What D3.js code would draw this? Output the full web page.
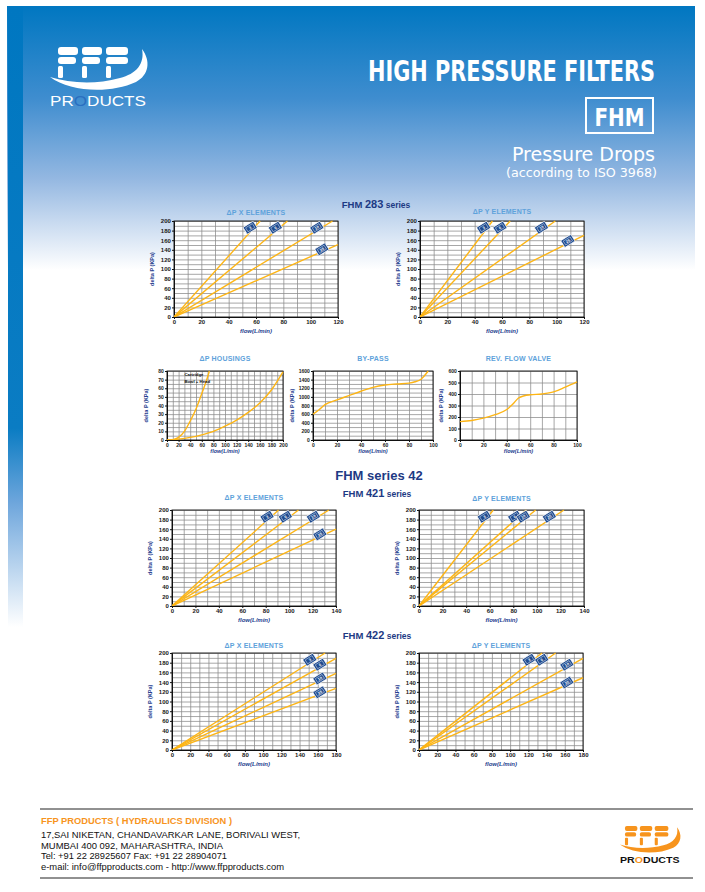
<!DOCTYPE html>
<html lang="en">
<head>
<meta charset="UTF-8">
<title>FHM Pressure Drops</title>
<script src="https://cdn.jsdelivr.net/npm/d3@7"></script>
<style>
    body { margin: 0; background: #fff; }
    svg { display: block; font-family: "Liberation Sans", Arial, sans-serif; }
    .grid line { stroke: #8a8a8a; stroke-width: 0.75; }
    .grid path { display: none; }
    .axis path, .axis line { stroke: #111; stroke-width: 1; }
    .axis text { font-weight: bold; fill: #1a1a1a; font-family: "Liberation Sans", Arial, sans-serif; }
</style>
</head>
<body>
<svg id="page" width="705" height="892"></svg>
<script>
// ---- data ----
// tick labels
const flowTicks100 = [0, 20, 40, 60, 80, 100];
const flowTicks120 = [0, 20, 40, 60, 80, 100, 120];
const flowTicks140 = [0, 20, 40, 60, 80, 100, 120, 140];
const flowTicks180 = [0, 20, 40, 60, 80, 100, 120, 140, 160, 180];
const flowTicks200 = [0, 20, 40, 60, 80, 100, 120, 140, 160, 180, 200];
const dpTicks200 = [0, 20, 40, 60, 80, 100, 120, 140, 160, 180, 200];
const dpTicks80 = [0, 10, 20, 30, 40, 50, 60, 70, 80];
const dpTicks1600 = [0, 200, 400, 600, 800, 1000, 1200, 1400, 1600];
const dpTicks600 = [0, 100, 200, 300, 400, 500, 600];

// element lines [flow L/min, dP kPa], finest element first
const elem283X = [[[0, 0], [63, 200]], [[0, 0], [83, 200]], [[0, 0], [116, 200]], [[0, 0], [120, 151]]];
const elem283Y = [[[0, 0], [53, 200]], [[0, 0], [66, 200]], [[0, 0], [99, 200]], [[0, 0], [120, 170]]];
const elem421X = [[[0, 0], [91, 200]], [[0, 0], [108, 200]], [[0, 0], [134, 200]], [[0, 0], [140, 160]]];
const elem421Y = [[[0, 0], [63, 200]], [[0, 0], [91, 200]], [[0, 0], [99, 200]], [[0, 0], [123, 200]]];
const elem422X = [[[0, 0], [168, 200]], [[0, 0], [180, 189]], [[0, 0], [180, 158]], [[0, 0], [180, 127]]];
const elem422Y = [[[0, 0], [135, 200]], [[0, 0], [150, 200]], [[0, 0], [180, 189]], [[0, 0], [180, 149]]];
const elementTags = ["3", "6", "10", "25"];

// curves
const housingA = [[0, 0], [10, 0.5], [20, 3], [30, 10], [40, 22], [50, 36], [60, 54], [70, 73], [73, 80]];
const housingB = [[0, 0], [20, 1], [40, 3], [60, 6], [80, 10], [100, 16], [120, 23], [140, 32], [160, 43], [180, 58], [200, 79]];
const housingLegend = ["Cartridge", "Bowl + Head"];
const bypassCurve = [[0, 600], [5, 700], [10, 820], [20, 930], [30, 1030], [40, 1130], [50, 1220], [60, 1275], [70, 1300], [80, 1320], [85, 1350], [90, 1410], [96, 1600]];
const revFlowCurve = [[0, 160], [10, 170], [20, 190], [30, 220], [40, 265], [45, 310], [50, 365], [55, 385], [60, 393], [70, 400], [80, 418], [90, 460], [100, 505]];

const svg = d3.select("#page");
const defs = svg.append("defs");

// header gradient
const hg = defs.append("linearGradient").attr("id", "hdr").attr("x1", 0).attr("y1", 0).attr("x2", 0).attr("y2", 1);
hg.append("stop").attr("offset", 0).attr("stop-color", "#0077c1");
hg.append("stop").attr("offset", 0.35).attr("stop-color", "#3f8dcf");
hg.append("stop").attr("offset", 0.65).attr("stop-color", "#93b7e1");
hg.append("stop").attr("offset", 0.8).attr("stop-color", "#c2d6ee");
hg.append("stop").attr("offset", 1).attr("stop-color", "#ffffff");

const sg = defs.append("linearGradient").attr("id", "strip").attr("x1", 0).attr("y1", 0).attr("x2", 0).attr("y2", 1);
sg.append("stop").attr("offset", 0).attr("stop-color", "#0077c1");
sg.append("stop").attr("offset", 0.68).attr("stop-color", "#0a7cc3");
sg.append("stop").attr("offset", 0.8).attr("stop-color", "#6ea6dc");
sg.append("stop").attr("offset", 1).attr("stop-color", "#ffffff");

svg.append("rect").attr("x", 7).attr("y", 6).attr("width", 688).attr("height", 264).attr("fill", "url(#hdr)");
svg.append("rect").attr("x", 8).attr("y", 6).attr("width", 15).attr("height", 621).attr("fill", "url(#strip)");

const narrow = "'Liberation Sans Narrow', 'DejaVu Sans Condensed', Arial, sans-serif";

svg.append("text").attr("x", 655).attr("y", 81).attr("text-anchor", "end")
    .attr("font-family", narrow).attr("font-weight", "bold").attr("font-size", 28)
    .attr("textLength", 287).attr("lengthAdjust", "spacingAndGlyphs")
    .attr("fill", "#fff").text("HIGH PRESSURE FILTERS");

svg.append("rect").attr("x", 586).attr("y", 98).attr("width", 67).attr("height", 35)
    .attr("fill", "none").attr("stroke", "#fff").attr("stroke-width", 2);
svg.append("text").attr("x", 619.5).attr("y", 126).attr("text-anchor", "middle")
    .attr("font-family", narrow).attr("font-weight", "bold").attr("font-size", 25)
    .attr("textLength", 50).attr("lengthAdjust", "spacingAndGlyphs")
    .attr("fill", "#fff").text("FHM");

svg.append("text").attr("x", 655).attr("y", 161).attr("text-anchor", "end")
    .attr("font-family", narrow).attr("font-size", 19)
    .attr("textLength", 143).attr("lengthAdjust", "spacingAndGlyphs")
    .attr("fill", "#fff").text("Pressure Drops");
svg.append("text").attr("x", 657).attr("y", 177).attr("text-anchor", "end")
    .attr("font-family", narrow).attr("font-size", 13)
    .attr("textLength", 151).attr("lengthAdjust", "spacingAndGlyphs")
    .attr("fill", "#fff").text("(according to ISO 3968)");

// FFP logo
function drawLogo(tx, ty, s, fill, textFill, globe, bold) {
    const g = svg.append("g").attr("transform", `translate(${tx},${ty}) scale(${s})`);
    g.append("path")
        .attr("d", "M0,30 C20,45 60,47 86,35 C99,28 101,14 92,2 C95,17 86,27 70,31 C44,38 20,36 0,30 Z")
        .attr("fill", fill);
    [8, 32, 56].forEach((bx, i) => {
        g.append("rect").attr("x", bx).attr("y", 0).attr("width", i === 2 ? 22 : 20).attr("height", 8).attr("rx", 3).attr("fill", fill);
        g.append("rect").attr("x", bx).attr("y", 10).attr("width", i === 2 ? 22 : 18).attr("height", 7).attr("rx", 3).attr("fill", fill);
        g.append("rect").attr("x", bx).attr("y", 19).attr("width", 5).attr("height", 12).attr("rx", 1.5).attr("fill", fill);
    });
    const t = g.append("text").attr("x", 0).attr("y", 59).attr("font-size", 15)
        .attr("font-weight", bold ? "bold" : "normal")
        .attr("textLength", 96).attr("lengthAdjust", "spacingAndGlyphs")
        .attr("fill", textFill);
    t.append("tspan").text("PR");
    t.append("tspan").attr("fill", globe).text("O");
    t.append("tspan").text("DUCTS");
}
drawLogo(50, 47, 1, "#ffffff", "#ffffff", "#2a6fc0", false);

// section titles
const navy = "#1d3a84";
function seriesTitle(cx, y, num) {
    const t = svg.append("text").attr("x", cx).attr("y", y).attr("text-anchor", "middle")
        .attr("font-weight", "bold").attr("fill", navy);
    t.append("tspan").attr("font-size", 9.5).text("FHM ");
    t.append("tspan").attr("font-size", 11).text(num);
    t.append("tspan").attr("font-size", 8.5).text(" series");
}
seriesTitle(376, 208, "283");
svg.append("text").attr("x", 379).attr("y", 480).attr("text-anchor", "middle")
    .attr("font-weight", "bold").attr("font-size", 13).attr("fill", navy).text("FHM series 42");
seriesTitle(377, 497, "421");
seriesTitle(377, 639, "422");

// ---- charts ----
const curveColor = "#fdb515";

function drawChart(c) {
    const g = svg.append("g");
    const x = d3.scaleLinear().domain([0, c.xTicks[c.xTicks.length - 1]]).range([c.left, c.right]);
    const y = d3.scaleLinear().domain([0, c.yTicks[c.yTicks.length - 1]]).range([c.bottom, c.top]);
    const h = c.bottom - c.top, w = c.right - c.left;
    const fs = c.tickFont || 6;

    g.append("rect").attr("x", c.left).attr("y", c.top).attr("width", w).attr("height", h).attr("fill", "#fff");

    g.append("g").attr("class", "grid").attr("transform", `translate(0,${c.bottom})`)
        .call(d3.axisBottom(x).tickValues(d3.range(0, x.domain()[1] + 0.01, c.xGrid)).tickSize(-h).tickFormat(""));
    g.append("g").attr("class", "grid").attr("transform", `translate(${c.left},0)`)
        .call(d3.axisLeft(y).tickValues(d3.range(0, y.domain()[1] + 0.01, c.yGrid)).tickSize(-w).tickFormat(""));

    g.append("rect").attr("x", c.left).attr("y", c.top).attr("width", w).attr("height", h)
        .attr("fill", "none").attr("stroke", "#111").attr("stroke-width", 0.9);

    g.append("g").attr("class", "axis").attr("font-size", fs).attr("transform", `translate(0,${c.bottom})`)
        .call(d3.axisBottom(x).tickValues(c.xTicks).tickFormat(d3.format("d")).tickSize(2).tickPadding(1.2))
        .selectAll("text").attr("font-size", fs);
    g.append("g").attr("class", "axis").attr("font-size", fs).attr("transform", `translate(${c.left},0)`)
        .call(d3.axisLeft(y).tickValues(c.yTicks).tickFormat(d3.format("d")).tickSize(2).tickPadding(1.2))
        .selectAll("text").attr("font-size", fs);

    g.append("text").attr("x", (c.left + c.right) / 2).attr("y", c.titleY).attr("text-anchor", "middle")
        .attr("font-size", 7).attr("font-weight", "bold").attr("fill", "#5ea2db").attr("letter-spacing", 0.2)
        .text(c.title);
    g.append("text").attr("x", (c.left + c.right) / 2).attr("y", c.bottom + c.xLabelDy).attr("text-anchor", "middle")
        .attr("font-size", c.labelFont || 6).attr("font-weight", "bold").attr("font-style", "italic").attr("fill", "#25408f")
        .text("flow(L/min)");
    g.append("text")
        .attr("transform", `translate(${c.left - c.yLabelDx},${(c.top + c.bottom) / 2}) rotate(-90)`)
        .attr("text-anchor", "middle").attr("font-size", 5.5).attr("font-weight", "bold").attr("fill", "#25408f")
        .text("delta P (KPa)");

    const line = d3.line().x(d => x(d[0])).y(d => y(d[1])).curve(c.smooth ? d3.curveMonotoneX : d3.curveLinear);
    const clip = "clip-" + c.id;
    defs.append("clipPath").attr("id", clip).append("rect")
        .attr("x", c.left).attr("y", c.top - 1).attr("width", w + 1).attr("height", h + 1);
    g.append("g").attr("clip-path", `url(#${clip})`).selectAll("path").data(c.series).join("path")
        .attr("d", line).attr("fill", "none").attr("stroke", curveColor).attr("stroke-width", 1.4);

    if (c.tags) {
        c.series.forEach((s, i) => {
            const e = s[s.length - 1];
            const bx = x(e[0] * 0.92) - 3, by = y(e[1] * 0.92) - 1;
            const b = g.append("g").attr("transform", `translate(${bx},${by}) rotate(-32)`);
            b.append("rect").attr("x", -6).attr("y", -4).attr("width", 12).attr("height", 8).attr("rx", 1)
                .attr("fill", "#1f4b8f").attr("stroke", "#fff").attr("stroke-width", 0.7);
            b.append("rect").attr("x", -4).attr("y", -2.3).attr("width", 8).attr("height", 4.6)
                .attr("fill", "none").attr("stroke", "#dfe8f5").attr("stroke-width", 0.5);
            b.append("text").attr("x", 0).attr("y", 1.4).attr("text-anchor", "middle")
                .attr("font-size", 3.8).attr("font-weight", "bold").attr("fill", "#fff").text(c.tags[i]);
        });
    }

    if (c.legend) {
        c.legend.forEach((t, i) => {
            g.append("text").attr("x", x(c.legendX)).attr("y", c.top + 5 + i * 6.5)
                .attr("font-size", 4.3).attr("font-weight", "bold").attr("fill", "#111").text(t);
        });
    }
}

const charts = [
    { id: "x283", title: "\u0394P X ELEMENTS", left: 174, right: 338, top: 221, bottom: 317, titleY: 215,
      xTicks: flowTicks120, yTicks: dpTicks200, xGrid: 10, yGrid: 10, series: elem283X, tags: elementTags, xLabelDy: 16, yLabelDx: 20 },
    { id: "y283", title: "\u0394P Y ELEMENTS", left: 420, right: 584, top: 221, bottom: 317, titleY: 214,
      xTicks: flowTicks120, yTicks: dpTicks200, xGrid: 10, yGrid: 10, series: elem283Y, tags: elementTags, xLabelDy: 16, yLabelDx: 20 },
    { id: "hous", title: "\u0394P HOUSINGS", left: 167, right: 283, top: 371, bottom: 440, titleY: 361,
      xTicks: flowTicks200, yTicks: dpTicks80, xGrid: 10, yGrid: 5, series: [housingA, housingB], smooth: true,
      legend: housingLegend, legendX: 30, xLabelDy: 13, yLabelDx: 19, tickFont: 5, labelFont: 5.5 },
    { id: "bypass", title: "BY-PASS", left: 313, right: 433, top: 371, bottom: 440, titleY: 361,
      xTicks: flowTicks100, yTicks: dpTicks1600, xGrid: 10, yGrid: 100, series: [bypassCurve], smooth: true,
      xLabelDy: 13, yLabelDx: 19, tickFont: 5, labelFont: 5.5 },
    { id: "rev", title: "REV. FLOW VALVE", left: 460, right: 577, top: 371, bottom: 440, titleY: 361,
      xTicks: flowTicks100, yTicks: dpTicks600, xGrid: 10, yGrid: 100, series: [revFlowCurve], smooth: true,
      xLabelDy: 13, yLabelDx: 17, tickFont: 5, labelFont: 5.5 },
    { id: "x421", title: "\u0394P X ELEMENTS", left: 172, right: 336, top: 510, bottom: 606, titleY: 500,
      xTicks: flowTicks140, yTicks: dpTicks200, xGrid: 10, yGrid: 10, series: elem421X, tags: elementTags, xLabelDy: 16, yLabelDx: 20 },
    { id: "y421", title: "\u0394P Y ELEMENTS", left: 419, right: 584, top: 510, bottom: 606, titleY: 501,
      xTicks: flowTicks140, yTicks: dpTicks200, xGrid: 10, yGrid: 10, series: elem421Y, tags: elementTags, xLabelDy: 16, yLabelDx: 20 },
    { id: "x422", title: "\u0394P X ELEMENTS", left: 172, right: 336, top: 653, bottom: 750, titleY: 648,
      xTicks: flowTicks180, yTicks: dpTicks200, xGrid: 10, yGrid: 10, series: elem422X, tags: elementTags, xLabelDy: 16, yLabelDx: 20 },
    { id: "y422", title: "\u0394P Y ELEMENTS", left: 419, right: 583, top: 653, bottom: 750, titleY: 648,
      xTicks: flowTicks180, yTicks: dpTicks200, xGrid: 10, yGrid: 10, series: elem422Y, tags: elementTags, xLabelDy: 16, yLabelDx: 20 }
];
charts.forEach(drawChart);

// ---- footer ----
svg.append("line").attr("x1", 40).attr("x2", 693).attr("y1", 809).attr("y2", 809).attr("stroke", "#222").attr("stroke-width", 1);
svg.append("line").attr("x1", 40).attr("x2", 693).attr("y1", 878).attr("y2", 878).attr("stroke", "#222").attr("stroke-width", 1);

svg.append("text").attr("x", 41).attr("y", 824).attr("font-size", 9).attr("font-weight", "bold")
    .attr("fill", "#f7941d").attr("textLength", 191).attr("lengthAdjust", "spacingAndGlyphs")
    .text("FFP PRODUCTS ( HYDRAULICS DIVISION )");
const addrLines = [
    ["17,SAI NIKETAN, CHANDAVARKAR LANE, BORIVALI WEST,", 259],
    ["MUMBAI 400 092, MAHARASHTRA, INDIA", 182],
    ["Tel: +91 22 28925607 Fax: +91 22 28904071", 186],
    ["e-mail: info@ffpproducts.com - http://www.ffpproducts.com", 243]
];
addrLines.forEach((a, i) => {
    svg.append("text").attr("x", 41).attr("y", 838 + i * 10.5).attr("font-size", 9)
        .attr("fill", "#111").attr("textLength", a[1]).attr("lengthAdjust", "spacingAndGlyphs").text(a[0]);
});
drawLogo(620, 826, 0.62, "#f7941d", "#111", "#f7941d", true);
</script>
</body>
</html>
